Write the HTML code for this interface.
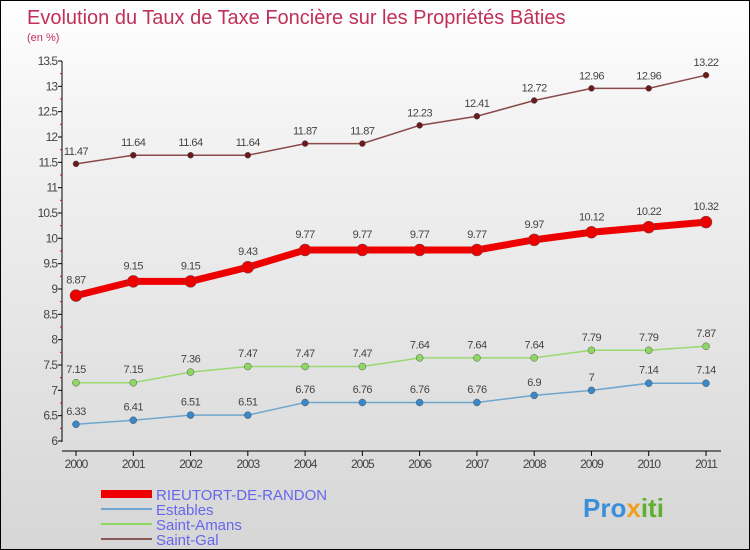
<!DOCTYPE html>
<html><head><meta charset="utf-8"><style>
body{margin:0}
#c{width:750px;height:550px;position:relative;overflow:hidden;box-sizing:border-box;border:1px solid #000;background:linear-gradient(#fff,#f4f4f4 20%,#d6d6d6);font-family:"Liberation Sans",sans-serif}
svg{position:absolute;left:0;top:0}
</style></head><body>
<div id="c">
<svg id="s" width="750" height="550">
<text x="26" y="23" font-size="20" fill="#c0305a">Evolution du Taux de Taxe Foncière sur les Propriétés Bâties</text>
<text x="26" y="40" font-size="11" fill="#c0305a">(en %)</text>
<line x1="61" y1="60" x2="61" y2="441" stroke="#000"/>
<line x1="61" y1="450" x2="720" y2="450" stroke="#000"/>
<g id="g"></g>
<g>
<rect x="100" y="489" width="51" height="8" fill="#e00"/>
<text x="155" y="499" font-size="15" fill="#6666ee">RIEUTORT-DE-RANDON</text>
<line x1="100" y1="508" x2="151" y2="508" stroke="#6fa6cf" stroke-width="2"/>
<text x="155" y="514" font-size="15" fill="#6666ee">Estables</text>
<line x1="100" y1="523" x2="151" y2="523" stroke="#8ed862" stroke-width="2"/>
<text x="155" y="529" font-size="15" fill="#6666ee">Saint-Amans</text>
<line x1="100" y1="538" x2="151" y2="538" stroke="#8a5a5a" stroke-width="2"/>
<text x="155" y="544" font-size="15" fill="#6666ee">Saint-Gal</text>
</g>
<text x="582" y="516" font-size="26" font-weight="bold" fill="#3a8fd8">Pro<tspan fill="#f0a020">x</tspan><tspan fill="#60b030">iti</tspan></text>
</svg>
</div>
<script>
const years=[2000,2001,2002,2003,2004,2005,2006,2007,2008,2009,2010,2011];
const yTicks=[6,6.5,7,7.5,8,8.5,9,9.5,10,10.5,11,11.5,12,12.5,13,13.5];
const rieutort=[8.87,9.15,9.15,9.43,9.77,9.77,9.77,9.77,9.97,10.12,10.22,10.32];
const estables=[6.33,6.41,6.51,6.51,6.76,6.76,6.76,6.76,6.9,7,7.14,7.14];
const saintAmans=[7.15,7.15,7.36,7.47,7.47,7.47,7.64,7.64,7.64,7.79,7.79,7.87];
const saintGal=[11.47,11.64,11.64,11.64,11.87,11.87,12.23,12.41,12.72,12.96,12.96,13.22];
const NS="http://www.w3.org/2000/svg";
const g=document.getElementById('g');
const X=i=>75+i*(705-75)/(years.length-1);
const Y=v=>440-(v-6)*(380/7.5);
function mk(t,a,p){const e=document.createElementNS(NS,t);for(const k in a)e.setAttribute(k,a[k]);(p||g).appendChild(e);return e;}
yTicks.forEach(v=>{
 const t=mk('line',{x1:57,x2:61,y1:Y(v),y2:Y(v),stroke:'#000'});
 
 
 if(v<13.5){const m=mk('line',{x1:59,x2:61,y1:Y(v+0.25),y2:Y(v+0.25),stroke:'#e00'});
 
 }
 const l=mk('text',{x:56,y:Y(v)+4,'font-size':12,fill:'#444','text-anchor':'end','letter-spacing':'-1'});
 l.textContent=String(v);
 
 
});
years.forEach((yr,i)=>{
 const t=mk('line',{x1:X(i),x2:X(i),y1:450,y2:455,stroke:'#000'});
 
 
 const l=mk('text',{x:X(i),y:467,'font-size':12,fill:'#444','text-anchor':'middle','letter-spacing':'-1'});
 l.textContent=yr;
 
 
});
function series(vals,color,w,r,dot,name){
 const p=mk('polyline',{points:vals.map((v,i)=>X(i)+','+Y(v)).join(' '),fill:'none',stroke:color,'stroke-width':w});
 
 
 vals.forEach((v,i)=>{
  const c=mk('circle',{cx:X(i),cy:Y(v),r:r,fill:dot,stroke:'#555','stroke-width':0.5});
  
  
  const l=mk('text',{x:X(i),y:Y(v)-(r+6),'font-size':11,fill:'#444','text-anchor':'middle','letter-spacing':'-0.5'});
  l.textContent=String(v);
  
  
 });
}
series(saintGal,'#8a4a4a',1.5,3,'#6a1a1a','saint-gal');
series(saintAmans,'#9ad870',1.5,3.5,'#8ed862','saint-amans');
series(estables,'#6fa6cf',1.5,3.5,'#3a88c8','estables');
series(rieutort,'#ee0000',7,6,'#ee0000','rieutort');
</script>
</body></html>
